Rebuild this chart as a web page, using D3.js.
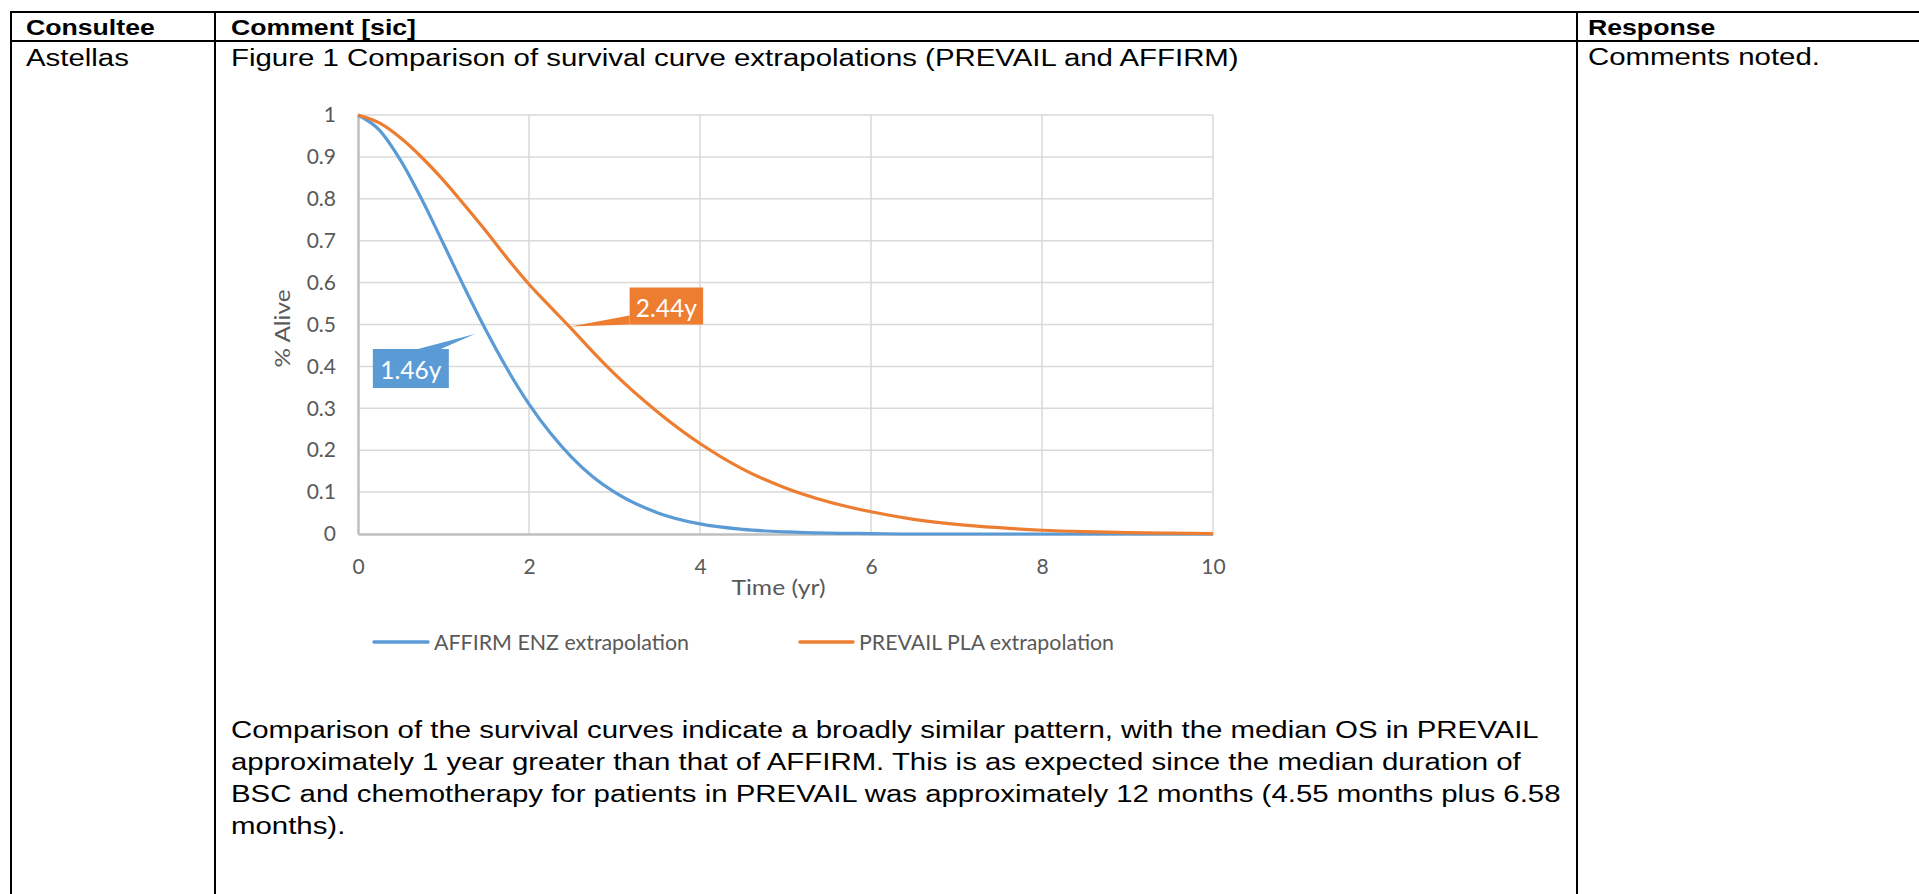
<!DOCTYPE html>
<html>
<head>
<meta charset="utf-8">
<script src="https://cdn.jsdelivr.net/npm/d3@7"></script>
<style>
    html, body { margin: 0; padding: 0; background: #fff; }
    svg { display: block; }
    .doc { font-family: 'Liberation Sans', Arial, sans-serif; fill: #000; }
    .chart text { font-family: Lato, 'Open Sans', sans-serif; fill: #595959; }
</style>
</head>
<body>
<svg id="page" width="1919" height="894"></svg>
<script>
(function () {
    // survival estimates (years, proportion alive)
    const timeYears = [0, 0.25, 0.5, 0.75, 1, 1.25, 1.5, 1.75, 2, 2.25, 2.5, 2.75, 3, 3.5, 4, 4.5, 5, 5.5, 6, 6.5, 7, 7.5, 8, 8.5, 9, 9.5, 10];
    const affirmAlive = [1, 0.964, 0.891, 0.797, 0.692, 0.586, 0.485, 0.392, 0.31, 0.241, 0.183, 0.136, 0.1, 0.051, 0.024, 0.011, 0.005, 0.002, 0.001, 0, 0, 0, 0, 0, 0, 0, 0];
    const prevailAlive = [1, 0.981, 0.945, 0.898, 0.844, 0.784, 0.722, 0.657, 0.596, 0.542, 0.489, 0.434, 0.382, 0.292, 0.216, 0.155, 0.11, 0.077, 0.053, 0.035, 0.023, 0.015, 0.009, 0.0055, 0.0033, 0.002, 0.001];

    const seriesNames = ['AFFIRM ENZ extrapolation', 'PREVAIL PLA extrapolation'];
    const seriesColours = ['#5B9BD5', '#ED7D31'];
    const medianYears = [1.46, 2.44];
    const medianLabels = ['1.46y', '2.44y'];

    const xTicks = [0, 2, 4, 6, 8, 10];
    const yTicks = [0, 0.1, 0.2, 0.3, 0.4, 0.5, 0.6, 0.7, 0.8, 0.9, 1];

    const headerLabels = ['Consultee', 'Comment [sic]', 'Response'];
    const consulteeName = 'Astellas';
    const responseText = 'Comments noted.';
    const captionText = 'Figure 1 Comparison of survival curve extrapolations (PREVAIL and AFFIRM)';
    const paragraphLines = [
        'Comparison of the survival curves indicate a broadly similar pattern, with the median OS in PREVAIL',
        'approximately 1 year greater than that of AFFIRM. This is as expected since the median duration of',
        'BSC and chemotherapy for patients in PREVAIL was approximately 12 months (4.55 months plus 6.58',
        'months).',
    ];

    const svg = d3.select('#page');
    const [width, height] = [1919, 894];

    // ---- the document table ----
    const [tableLeft, colComment, colResponse] = [11, 215, 1577];
    const [tableTop, headerBottom] = [12, 41];
    const stretchX = 1.2;
    const [bodySize, headerSize] = [24.5, 22.2];

    function rule(x1, y1, x2, y2) {
        svg.append('line')
           .attr('x1', x1).attr('y1', y1)
           .attr('x2', x2).attr('y2', y2)
           .attr('stroke', '#000')
           .attr('stroke-width', 2);
    }

    function docText(str, x, y, bold = false) {
        svg.append('text')
           .attr('class', 'doc')
           .attr('transform', `translate(${x}, ${y}) scale(${stretchX}, 1)`)
           .attr('font-size', bold ? headerSize : bodySize)
           .attr('font-weight', bold ? 'bold' : null)
           .text(str);
    }

    rule(tableLeft - 1, tableTop, width, tableTop);
    rule(tableLeft - 1, headerBottom, width, headerBottom);
    rule(tableLeft, tableTop, tableLeft, height);
    rule(colComment, tableTop, colComment, height);
    rule(colResponse, tableTop, colResponse, height);

    const colText = [tableLeft + 15, colComment + 16, colResponse + 11];
    headerLabels.forEach((label, i) => docText(label, colText[i], 35, true));
    docText(consulteeName, colText[0], 66);
    docText(captionText, colText[1], 66);
    docText(responseText, colText[2], 65);
    paragraphLines.forEach((line, i) => docText(line, colText[1], 738 + i * 32));

    // ---- the chart ----
    const [plotLeft, plotRight, plotTop, plotBottom] = [358, 1213, 115, 534];
    const chart = svg.append('g').attr('class', 'chart');

    let x = d3.scaleLinear().domain([0, 10]).range([plotLeft, plotRight]);
    let y = d3.scaleLinear().domain([0, 1]).range([plotBottom, plotTop]);

    chart.append('g')
         .selectAll('line')
         .data(yTicks.filter(d => d > 0))
         .enter()
         .append('line')
         .attr('x1', plotLeft).attr('x2', plotRight)
         .attr('y1', d => y(d)).attr('y2', d => y(d))
         .attr('stroke', '#d9d9d9')
         .attr('stroke-width', 1.5);

    chart.append('g')
         .selectAll('line')
         .data(xTicks.filter(d => d > 0))
         .enter()
         .append('line')
         .attr('x1', d => x(d)).attr('x2', d => x(d))
         .attr('y1', plotTop).attr('y2', plotBottom)
         .attr('stroke', '#d9d9d9')
         .attr('stroke-width', 1.5);

    let xAxis = chart.append('g')
                     .attr('transform', `translate(0, ${plotBottom})`)
                     .call(d3.axisBottom(x).tickValues(xTicks).tickSize(0).tickPadding(25));
    let yAxis = chart.append('g')
                     .attr('transform', `translate(${plotLeft}, 0)`)
                     .call(d3.axisLeft(y).tickValues(yTicks).tickSize(0).tickPadding(22).tickFormat(d3.format('~g')));

    for (let axis of [xAxis, yAxis]) {
        axis.attr('font-family', null).attr('font-size', null);
        axis.select('.domain')
            .attr('stroke', '#bfbfbf')
            .attr('stroke-width', 2.5);
        axis.selectAll('text')
            .attr('font-size', 21)
            .attr('fill', '#595959');
    }

    chart.append('text')
         .attr('x', (plotLeft + plotRight) / 2 - 7)
         .attr('y', 595)
         .attr('text-anchor', 'middle')
         .attr('font-size', 21)
         .attr('textLength', 94)
         .attr('lengthAdjust', 'spacingAndGlyphs')
         .text('Time (yr)');

    chart.append('text')
         .attr('transform', `translate(290, ${(plotTop + plotBottom) / 2 + 4}) rotate(-90)`)
         .attr('text-anchor', 'middle')
         .attr('font-size', 21)
         .attr('textLength', 78)
         .attr('lengthAdjust', 'spacingAndGlyphs')
         .text('% Alive');

    const seriesValues = [affirmAlive, prevailAlive];
    let line = d3.line()
                 .x(d => x(d[0]))
                 .y(d => y(d[1]))
                 .curve(d3.curveMonotoneX);

    seriesValues.forEach((values, i) => {
        chart.append('path')
             .datum(timeYears.map((t, j) => [t, values[j]]))
             .attr('d', line)
             .attr('fill', 'none')
             .attr('stroke', seriesColours[i])
             .attr('stroke-width', 3.2)
             .attr('stroke-linejoin', 'round');
    });

    // median callouts, placed relative to the median point
    const callouts = [
        {box: [-110, 24.5, 76, 39], wedge: [[-65, 24.5], [-8, 9.5], [-42, 24.5]]},
        {box: [63, -37, 73.5, 37], wedge: [[63, -9], [4, 2], [63, 0]]},
    ];
    callouts.forEach((c, i) => {
        let [px, py] = [x(medianYears[i]), y(0.5)];
        let g = chart.append('g').attr('transform', `translate(${px}, ${py})`);
        g.append('rect')
         .attr('x', c.box[0]).attr('y', c.box[1])
         .attr('width', c.box[2]).attr('height', c.box[3])
         .attr('fill', seriesColours[i]);
        g.append('polygon')
         .attr('points', c.wedge.map(p => p.join(',')).join(' '))
         .attr('fill', seriesColours[i]);
        g.append('text')
         .attr('x', c.box[0] + c.box[2] / 2)
         .attr('y', c.box[1] + 29.5)
         .attr('text-anchor', 'middle')
         .attr('font-size', 24.5)
         .style('fill', '#fff')
         .text(medianLabels[i]);
    });

    // legend
    const legendX = [[374, 428], [800, 853]];
    const legendY = 642;
    seriesNames.forEach((name, i) => {
        chart.append('line')
             .attr('x1', legendX[i][0]).attr('x2', legendX[i][1])
             .attr('y1', legendY).attr('y2', legendY)
             .attr('stroke', seriesColours[i])
             .attr('stroke-width', 3.5)
             .attr('stroke-linecap', 'round');
        chart.append('text')
             .attr('x', legendX[i][1] + 6)
             .attr('y', legendY + 7.5)
             .attr('font-size', 21)
             .attr('textLength', 255)
             .attr('lengthAdjust', 'spacingAndGlyphs')
             .text(name);
    });
})();
</script>
</body>
</html>
